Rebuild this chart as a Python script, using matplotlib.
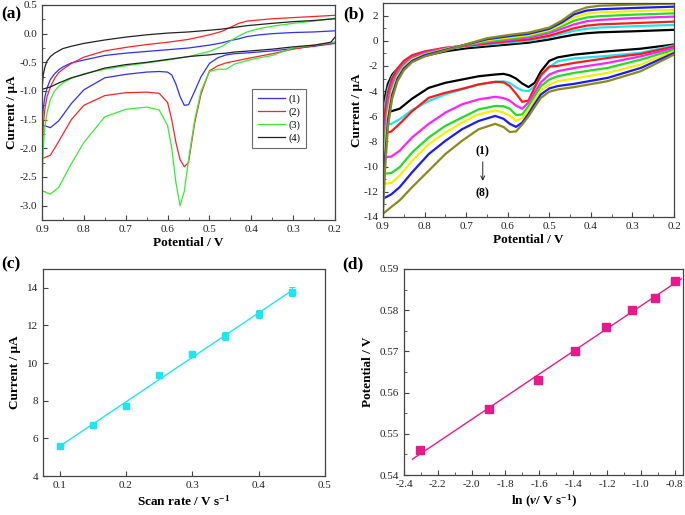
import numpy as np
import matplotlib
matplotlib.use("Agg")
import matplotlib.pyplot as plt
from matplotlib.ticker import MultipleLocator, FormatStrFormatter

plt.rcParams['font.family'] = ['Liberation Serif', 'DejaVu Serif']
plt.rcParams['axes.unicode_minus'] = False
plt.rcParams['mathtext.fontset'] = 'custom'
plt.rcParams['mathtext.rm'] = 'Liberation Serif:bold'
plt.rcParams['mathtext.it'] = 'Liberation Serif:italic:bold'
plt.rcParams['mathtext.bf'] = 'Liberation Serif:bold'

# ---------------- Panel (a) data ----------------
a_lower_v = [0.2, 0.21, 0.25, 0.3, 0.35, 0.4, 0.44, 0.46, 0.48, 0.5, 0.52, 0.535, 0.55, 0.56, 0.57,
             0.58, 0.59, 0.6, 0.62, 0.65, 0.7, 0.75, 0.8, 0.83, 0.86, 0.88, 0.9]
a_upper_v = [0.9, 0.897, 0.893, 0.888, 0.88, 0.87, 0.86, 0.85, 0.83, 0.8, 0.75, 0.7, 0.65, 0.6,
             0.55, 0.5, 0.47, 0.45, 0.43, 0.41, 0.38, 0.35, 0.3, 0.25, 0.2]
a_labels = ['(1)', '(2)', '(3)', '(4)']
a_lower = [
    [-0.17, -0.18, -0.22, -0.26, -0.3, -0.33, -0.35, -0.37, -0.42, -0.52, -0.75, -1.0, -1.24, -1.25, -1.1,
     -0.88, -0.72, -0.67, -0.66, -0.67, -0.71, -0.77, -0.98, -1.22, -1.52, -1.64, -1.59],
    [-0.16, -0.17, -0.21, -0.27, -0.35, -0.42, -0.48, -0.51, -0.56, -0.65, -1.05, -1.55, -2.25, -2.32, -2.2,
     -1.9, -1.5, -1.2, -1.04, -1.02, -1.03, -1.08, -1.25, -1.5, -1.88, -2.12, -2.18],
    [-0.14, -0.16, -0.2, -0.25, -0.38, -0.45, -0.53, -0.62, -0.62, -0.66, -1.0, -1.5, -2.2, -2.75, -3.0,
     -2.6, -2.0, -1.6, -1.33, -1.28, -1.32, -1.45, -1.9, -2.27, -2.68, -2.8, -2.74],
    [-0.06, -0.15, -0.2, -0.23, -0.27, -0.3, -0.32, -0.34, -0.35, -0.37, -0.38, -0.39, -0.4, -0.41, -0.42,
     -0.43, -0.44, -0.45, -0.47, -0.5, -0.54, -0.6, -0.71, -0.77, -0.86, -0.93, -0.97],
]
a_upper = [
    [-1.59, -1.3, -1.1, -0.95, -0.8, -0.7, -0.63, -0.58, -0.51, -0.46, -0.38, -0.34, -0.31, -0.28,
     -0.25, -0.2, -0.16, -0.12, -0.09, -0.05, -0.02, 0.0, 0.02, 0.03, 0.05],
    [-2.18, -1.6, -1.3, -1.1, -0.93, -0.78, -0.68, -0.62, -0.52, -0.41, -0.3, -0.24, -0.19, -0.15,
     -0.1, -0.02, 0.04, 0.11, 0.18, 0.22, 0.24, 0.26, 0.28, 0.3, 0.32],
    [-2.74, -2.0, -1.62, -1.38, -1.15, -1.0, -0.92, -0.86, -0.78, -0.7, -0.62, -0.56, -0.51, -0.46,
     -0.4, -0.31, -0.22, -0.13, -0.04, 0.03, 0.09, 0.13, 0.18, 0.22, 0.27],
    [-0.97, -0.72, -0.58, -0.48, -0.4, -0.34, -0.3, -0.26, -0.22, -0.17, -0.11, -0.06, -0.02, 0.01,
     0.03, 0.06, 0.08, 0.1, 0.12, 0.14, 0.16, 0.18, 0.21, 0.23, 0.26],
]
a_colors = ['#2e2eff', '#ff2222', '#33ee33', '#222222']

# ---------------- Panel (b) data ----------------
b_lower_v = [0.2, 0.28, 0.36, 0.44, 0.48, 0.5, 0.52, 0.535, 0.55, 0.565, 0.58, 0.595, 0.61, 0.63,
             0.67, 0.71, 0.75, 0.79, 0.83, 0.86, 0.88, 0.9]
b_upper_v = [0.9, 0.895, 0.888, 0.878, 0.865, 0.85, 0.83, 0.8, 0.75, 0.7, 0.65, 0.6, 0.55, 0.5,
             0.47, 0.44, 0.41, 0.38, 0.3, 0.2]
b_lower = [
    [-0.3, -0.63, -0.84, -1.1, -1.32, -1.6, -2.42, -3.34, -3.68, -3.4, -3.0, -2.75, -2.63, -2.68,
     -2.82, -3.08, -3.34, -3.74, -4.6, -5.4, -5.6, -5.6],
    [-0.37, -0.95, -1.2, -1.4, -1.63, -2.1, -2.85, -3.6, -4.0, -3.95, -3.7, -3.35, -3.22, -3.26,
     -3.47, -3.87, -4.26, -4.79, -5.5, -6.24, -6.6, -6.63],
    [-0.45, -1.05, -1.37, -1.76, -2.0, -2.05, -2.7, -3.7, -4.75, -4.85, -4.2, -3.6, -3.3, -3.26,
     -3.47, -3.82, -4.13, -4.53, -5.6, -6.6, -7.2, -7.42],
    [-0.58, -1.24, -1.76, -2.16, -2.42, -2.68, -3.3, -4.1, -4.9, -5.4, -5.15, -4.75, -4.55, -4.45,
     -4.66, -5.05, -5.71, -6.6, -7.68, -8.74, -9.2, -9.26],
    [-0.71, -1.5, -2.16, -2.55, -2.82, -3.08, -3.6, -4.4, -5.2, -5.85, -5.9, -5.4, -5.2, -5.18,
     -5.45, -6.1, -6.76, -7.68, -8.87, -10.05, -10.5, -10.58],
    [-0.84, -1.89, -2.55, -3.0, -3.21, -3.47, -3.95, -4.7, -5.5, -6.15, -6.35, -5.95, -5.7, -5.53,
     -5.84, -6.5, -7.29, -8.21, -9.53, -10.71, -11.3, -11.37],
    [-0.97, -2.16, -2.95, -3.42, -3.6, -3.79, -4.26, -5.0, -5.8, -6.5, -6.84, -6.6, -6.2, -5.97,
     -6.37, -7.03, -7.95, -9.0, -10.45, -11.63, -12.2, -12.55],
    [-1.1, -2.42, -3.21, -3.68, -3.87, -4.05, -4.53, -5.25, -6.0, -6.65, -7.2, -7.25, -6.85, -6.6,
     -7.03, -7.95, -9.0, -10.32, -11.63, -12.68, -13.2, -13.74],
]
b_upper = [
    [-5.6, -4.4, -3.4, -2.7, -2.2, -1.85, -1.5, -1.2, -0.84, -0.6, -0.45, -0.3, -0.15, 0.1,
     0.3, 0.48, 0.6, 0.67, 0.75, 0.87],
    [-6.63, -5.0, -3.8, -2.9, -2.2, -1.7, -1.3, -1.0, -0.68, -0.45, -0.3, -0.15, 0.0, 0.3,
     0.55, 0.8, 0.95, 1.05, 1.15, 1.26],
    [-7.42, -5.6, -4.1, -3.0, -2.2, -1.6, -1.15, -0.85, -0.55, -0.4, -0.22, -0.05, 0.1, 0.4,
     0.7, 1.0, 1.2, 1.3, 1.4, 1.52],
    [-9.26, -6.8, -4.8, -3.4, -2.5, -1.85, -1.35, -0.95, -0.6, -0.35, -0.12, 0.05, 0.25, 0.6,
     0.95, 1.3, 1.55, 1.65, 1.8, 1.92],
    [-10.58, -7.8, -5.4, -3.8, -2.7, -2.0, -1.45, -1.05, -0.65, -0.32, -0.05, 0.15, 0.35, 0.75,
     1.15, 1.6, 1.85, 1.95, 2.07, 2.18],
    [-11.37, -8.5, -5.8, -4.0, -2.85, -2.1, -1.5, -1.1, -0.68, -0.3, 0.05, 0.25, 0.45, 0.85,
     1.3, 1.85, 2.15, 2.25, 2.35, 2.45],
    [-12.55, -9.3, -6.3, -4.3, -3.0, -2.2, -1.6, -1.15, -0.72, -0.3, 0.12, 0.35, 0.55, 0.95,
     1.45, 2.1, 2.4, 2.5, 2.6, 2.71],
    [-13.74, -10.2, -6.8, -4.6, -3.2, -2.35, -1.7, -1.25, -0.78, -0.28, 0.2, 0.45, 0.65, 1.05,
     1.6, 2.3, 2.65, 2.78, 2.87, 2.95],
]
b_colors = ['#000000', '#1ee6f0', '#ff1a1a', '#ff22ff', '#22dd22', '#f2f200', '#1a1aff', '#8c8a1e']

# ---------------- Panel (c) data ----------------
c_scan = [0.10, 0.15, 0.20, 0.25, 0.30, 0.35, 0.40, 0.45]
c_current = [5.6, 6.7, 7.7, 9.35, 10.5, 11.45, 12.6, 13.8]
c_err = [0.1, 0.1, 0.15, 0.15, 0.15, 0.2, 0.22, 0.25]

# ---------------- Panel (d) data ----------------
d_lnv = [-2.303, -1.897, -1.609, -1.386, -1.204, -1.050, -0.916, -0.799]
d_pot = [0.546, 0.556, 0.563, 0.570, 0.576, 0.580, 0.583, 0.587]
d_err = [0.0006] * 8

FRAME = '#444444'
TICK_FS = 8
LAB_FS = 9.5

fig = plt.figure(figsize=(6.85, 5.15), dpi=100)
W, H = 685.0, 515.0
def box(l, r, t, b):
    return [l / W, 1 - b / H, (r - l) / W, (b - t) / H]

ax_a = fig.add_axes(box(42, 335, 5, 220))
ax_b = fig.add_axes(box(383, 674, 3, 217))
ax_c = fig.add_axes(box(43, 325, 269, 476))
ax_d = fig.add_axes(box(404, 683, 269, 475))

def style(ax):
    for s in ax.spines.values():
        s.set_color(FRAME)
        s.set_linewidth(0.9)
    ax.tick_params(which='both', direction='in', top=False, right=False,
                   labelsize=TICK_FS, color=FRAME, labelcolor='#222222')
    ax.tick_params(which='major', length=3.5, width=0.8)
    ax.tick_params(which='minor', length=2, width=0.6)

# (a)
for i in range(4):
    v = list(a_lower_v) + list(a_upper_v[1:])
    cur = list(a_lower[i]) + list(a_upper[i][1:])
    ax_a.plot(v, cur, color=a_colors[i], lw=0.9, label=a_labels[i])
ax_a.set_xlim(0.9, 0.2)
ax_a.set_ylim(-3.25, 0.5)
ax_a.xaxis.set_major_locator(MultipleLocator(0.1))
ax_a.xaxis.set_minor_locator(MultipleLocator(0.05))
ax_a.yaxis.set_major_locator(MultipleLocator(0.5))
ax_a.yaxis.set_minor_locator(MultipleLocator(0.25))
ax_a.xaxis.set_major_formatter(FormatStrFormatter('%.1f'))
ax_a.yaxis.set_major_formatter(FormatStrFormatter('%.1f'))
style(ax_a)
ax_a.set_xlabel('Potential / V', fontsize=LAB_FS, fontweight='bold', labelpad=2)
ax_a.set_ylabel('Current / μA', fontsize=LAB_FS, fontweight='bold', labelpad=1)
leg = ax_a.legend(loc='upper left', bbox_to_anchor=(0.70, 0.635), fontsize=7.5,
                  frameon=True, fancybox=False, edgecolor=FRAME, handlelength=2.6,
                  labelspacing=0.35, borderpad=0.5, handletextpad=0.4)
leg.get_frame().set_linewidth(0.8)

# (b)
for i in range(8):
    v = list(b_lower_v) + list(b_upper_v[1:])
    cur = list(b_lower[i]) + list(b_upper[i][1:])
    ax_b.plot(v, cur, color=b_colors[i], lw=1.6)
ax_b.set_xlim(0.9, 0.2)
ax_b.set_ylim(-14, 3)
ax_b.xaxis.set_major_locator(MultipleLocator(0.1))
ax_b.xaxis.set_minor_locator(MultipleLocator(0.05))
ax_b.yaxis.set_major_locator(MultipleLocator(2))
ax_b.yaxis.set_minor_locator(MultipleLocator(1))
ax_b.xaxis.set_major_formatter(FormatStrFormatter('%.1f'))
ax_b.yaxis.set_major_formatter(FormatStrFormatter('%d'))
style(ax_b)
ax_b.set_xlabel('Potential / V', fontsize=LAB_FS, fontweight='bold', labelpad=2)
ax_b.set_ylabel('Current / μA', fontsize=LAB_FS, fontweight='bold', labelpad=0)
ax_b.text(0.66, -8.75, '(1)', fontsize=8.5, fontweight='bold', ha='center', va='center')
ax_b.text(0.66, -12.1, '(8)', fontsize=8.5, fontweight='bold', ha='center', va='center')
ax_b.annotate('', xy=(0.66, -11.35), xytext=(0.66, -9.4),
              arrowprops=dict(arrowstyle='->', lw=0.7, color='#222222', mutation_scale=7))

# (c)
cx = np.array(c_scan); cy = np.array(c_current)
pc = np.polyfit(cx, cy, 1)
xl = np.array([cx.min(), cx.max()])
ax_c.plot(xl, np.polyval(pc, xl), color='#1ee6f0', lw=1.0)
ax_c.errorbar(cx, cy, yerr=c_err, fmt='s', color='#1ee6f0', ms=5, capsize=2,
              elinewidth=0.8, capthick=0.8)
ax_c.set_xlim(0.075, 0.5)
ax_c.set_ylim(4, 15)
ax_c.xaxis.set_major_locator(MultipleLocator(0.1))
ax_c.yaxis.set_major_locator(MultipleLocator(2))
ax_c.xaxis.set_major_formatter(FormatStrFormatter('%.1f'))
ax_c.yaxis.set_major_formatter(FormatStrFormatter('%d'))
style(ax_c)
ax_c.set_xlabel('Scan rate / V s$^{-1}$', fontsize=LAB_FS, fontweight='bold', labelpad=3)
ax_c.set_ylabel('Current / μA', fontsize=LAB_FS, fontweight='bold', labelpad=4)

# (d)
dx = np.array(d_lnv); dy = np.array(d_pot)
pd_ = np.polyfit(dx, dy, 1)
xl = np.array([-2.35, -0.76])
ax_d.plot(xl, np.polyval(pd_, xl), color='#e8198b', lw=1.0)
ax_d.errorbar(dx, dy, yerr=d_err, fmt='s', color='#e8198b', ms=5.5, capsize=2,
              elinewidth=0.8, capthick=0.8)
ax_d.set_xlim(-2.4, -0.75)
ax_d.set_ylim(0.54, 0.59)
ax_d.xaxis.set_major_locator(MultipleLocator(0.2))
ax_d.xaxis.set_minor_locator(MultipleLocator(0.1))
ax_d.yaxis.set_major_locator(MultipleLocator(0.01))
ax_d.yaxis.set_minor_locator(MultipleLocator(0.005))
ax_d.xaxis.set_major_formatter(FormatStrFormatter('%.1f'))
ax_d.yaxis.set_major_formatter(FormatStrFormatter('%.2f'))
style(ax_d)
ax_d.set_xlabel('ln ($\\mathit{v}$/ V s$^{-1}$)', fontsize=LAB_FS, fontweight='bold', labelpad=3)
ax_d.set_ylabel('Potential / V', fontsize=LAB_FS, fontweight='bold', labelpad=4)

# panel labels
fig.text(1 / W, 1 - 14 / H, '(a)', fontsize=12.5, fontweight='bold', va='center', ha='left')
fig.text(343 / W, 1 - 14 / H, '(b)', fontsize=12.5, fontweight='bold', va='center', ha='left')
fig.text(1 / W, 1 - 264 / H, '(c)', fontsize=12.5, fontweight='bold', va='center', ha='left')
fig.text(342 / W, 1 - 264 / H, '(d)', fontsize=12.5, fontweight='bold', va='center', ha='left')

fig.savefig('out.png', dpi=100)
